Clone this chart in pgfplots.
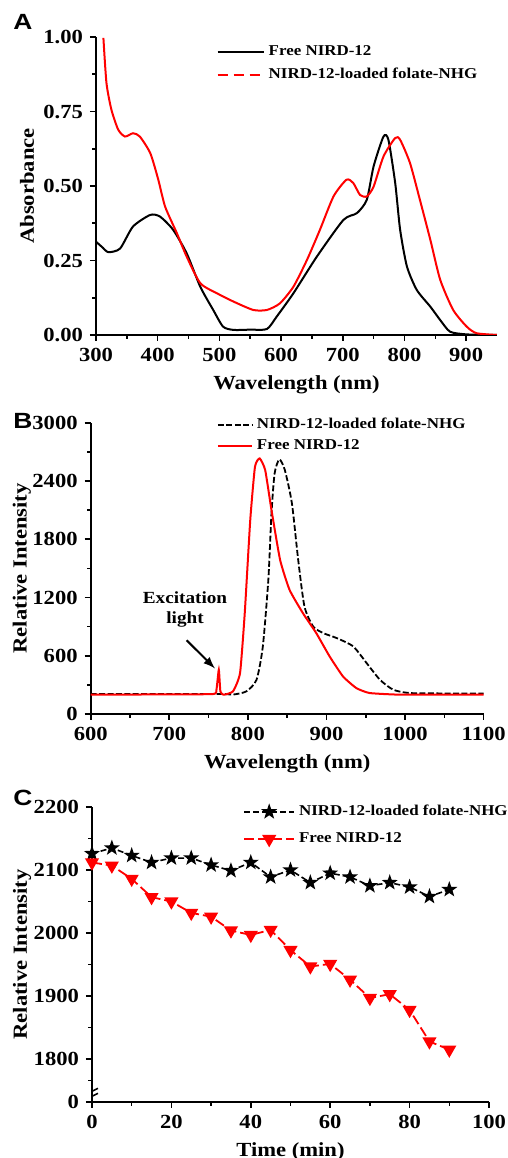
\documentclass[border=0pt]{standalone}
\usepackage{fontspec}
\setmainfont{Liberation Serif}[FakeStretch=1.13]
\newfontfamily\panelfont{Liberation Sans}[FakeStretch=1.2]
\usepackage{pgfplots}
\pgfplotsset{compat=1.18}

% filled five-point star mark
\pgfdeclareplotmark{fstar}{%
  \pgfpathmoveto{\pgfpointpolar{90}{\pgfplotmarksize}}%
  \pgfpathlineto{\pgfpointpolar{126}{0.4\pgfplotmarksize}}%
  \pgfpathlineto{\pgfpointpolar{162}{\pgfplotmarksize}}%
  \pgfpathlineto{\pgfpointpolar{198}{0.4\pgfplotmarksize}}%
  \pgfpathlineto{\pgfpointpolar{234}{\pgfplotmarksize}}%
  \pgfpathlineto{\pgfpointpolar{270}{0.4\pgfplotmarksize}}%
  \pgfpathlineto{\pgfpointpolar{306}{\pgfplotmarksize}}%
  \pgfpathlineto{\pgfpointpolar{342}{0.4\pgfplotmarksize}}%
  \pgfpathlineto{\pgfpointpolar{18}{\pgfplotmarksize}}%
  \pgfpathlineto{\pgfpointpolar{54}{0.4\pgfplotmarksize}}%
  \pgfpathclose
  \pgfusepathqfillstroke}

\pgfplotsset{
  panel/.style={
    scale only axis, anchor=south west,
    axis lines*=left, tick align=outside,
    major tick length=3pt, minor tick length=1.8pt,
    tick style={black, line width=0.8pt},
    axis line style={line width=0.9pt},
    ticklabel style={font=\bfseries\fontsize{10}{12}\selectfont},
    label style={font=\bfseries\fontsize{10}{12}\selectfont},
    /pgf/number format/assume math mode=true,
    /pgf/number format/1000 sep={},
    legend cell align=left,
    legend style={draw=none, fill=none, anchor=north west,
      font=\bfseries\fontsize{7.5}{9}\selectfont, row sep=1pt},
  },
  ylabpos/.style={ylabel style={at={(axis description cs:#1,0.5)}, anchor=center, rotate=0}},
  linelegend/.style={legend image code/.code={\draw[##1] (0pt,0pt) -- (#1,0pt);}},
}

\begin{document}
\begin{tikzpicture}[x=1pt,y=1pt]
\useasboundingbox (0,0) rectangle (254,579);

\node[font=\panelfont\bfseries\fontsize{11}{13}\selectfont] at (11.5,568) {A};
\node[font=\panelfont\bfseries\fontsize{11}{13}\selectfont] at (11.5,368.5) {B};
\node[font=\panelfont\bfseries\fontsize{11}{13}\selectfont] at (11.5,180) {C};

% ---------- A: absorbance
\begin{axis}[panel, at={(48pt,411.5pt)}, width=200.5pt, height=149pt,
  xmin=300, xmax=950, ymin=0, ymax=1,
  xtick={300,400,...,900}, minor x tick num=1,
  ytick={0,0.25,0.5,0.75,1}, minor y tick num=1,
  yticklabel style={/pgf/number format/.cd, fixed, fixed zerofill, precision=2},
  xlabel={Wavelength (nm)}, ylabel={Absorbance}, ylabpos=-0.172,
  linelegend=23pt,
  legend style={at={(0.285,1.0)}},
]
\addplot[black, line width=1pt, smooth, tension=0.4] coordinates {
(300,0.313) (310,0.295) (320,0.278) (339,0.29) (360,0.364) (388,0.403) (404,0.397)
(425,0.353) (447,0.274) (469,0.162) (490,0.084) (506,0.028) (523,0.017) (550,0.018)
(577,0.02) (593,0.062) (620,0.14) (658,0.263) (701,0.386) (723,0.409) (739,0.454)
(750,0.566) (766,0.666) (774,0.655) (785,0.51) (793,0.353) (804,0.23) (820,0.151)
(842,0.095) (858,0.05) (874,0.011) (901,0.002) (950,0)
};
\addlegendentry{Free NIRD-12}
\addplot[red, line width=1pt, smooth, tension=0.4, forget plot] coordinates {
(312,0.997) (317,0.845) (325,0.756) (336,0.689) (347,0.666) (360,0.677) (371,0.666)
(388,0.61) (401,0.521) (412,0.431) (431,0.342) (447,0.263) (469,0.174) (496,0.14)
(523,0.112) (555,0.084) (577,0.084) (598,0.106) (620,0.162) (642,0.252) (663,0.353)
(685,0.465) (706,0.521) (717,0.51) (728,0.47) (739,0.465) (750,0.498) (766,0.599)
(785,0.661) (793,0.655) (809,0.577) (825,0.454) (842,0.319) (858,0.185) (879,0.084)
(901,0.028) (917,0.006) (950,0)
};
\addlegendimage{red, line width=1pt, dash pattern=on 5pt off 3pt}
\addlegendentry{NIRD-12-loaded folate-NHG}
\end{axis}

% ---------- B: fluorescence spectra
\begin{axis}[panel, at={(45.35pt,222pt)}, width=196.5pt, height=145.6pt,
  xmin=600, xmax=1100, ymin=0, ymax=3000,
  xtick={600,700,...,1100}, minor x tick num=1,
  ytick={0,600,...,3000}, minor y tick num=1,
  xlabel={Wavelength (nm)}, ylabel={Relative Intensity}, ylabpos=-0.175,
  linelegend=17pt,
  legend style={at={(0.305,1.045)}, row sep=0pt},
]
\addplot[black, line width=0.9pt, dash pattern=on 3pt off 1.2pt, smooth, tension=0.4] coordinates {
(600,205) (700,205) (769,205) (781,200) (798,233) (811,353) (819,696) (826,1382)
(830,2067) (834,2479) (840,2623) (847,2513) (856,2170) (864,1587) (872,1107) (883,902)
(896,833) (913,782) (934,696) (951,525) (968,353) (985,250) (1006,216) (1050,212) (1100,212)
};
\addlegendentry{NIRD-12-loaded folate-NHG}
\addplot[red, line width=1pt, smooth, tension=0.3] coordinates {
(600,199) (700,202) (756,206) (760,250) (763,456) (765,233) (769,199) (781,233)
(790,422) (796,1039) (803,1999) (809,2547) (815,2633) (822,2513) (830,2102) (841,1587)
(853,1279) (870,1039) (887,833) (904,593) (921,387) (938,267) (955,216) (993,199)
(1050,199) (1100,199)
};
\addlegendentry{Free NIRD-12}
\node[font=\bfseries\fontsize{8.5}{10}\selectfont, align=center] at (axis cs:720,1080) {Excitation\\light};
\draw[-latex, line width=1pt] (axis cs:722,760) -- (axis cs:758,470);
\end{axis}

% ---------- C: photostability
\begin{axis}[panel, at={(46pt,28pt)}, width=198.5pt, height=147.5pt,
  xmin=0, xmax=100, ymin=1732, ymax=2200,
  xtick={0,20,...,100}, minor x tick num=1,
  ytick={1732,1800,1900,2000,2100,2200},
  yticklabels={0,1800,1900,2000,2100,2200},
  minor ytick={1766,1850,1950,2050,2150},
  xlabel={Time (min)}, ylabel={Relative Intensity}, ylabpos=-0.176,
  legend image code/.code={\draw[mark repeat=2,mark phase=2,#1] plot coordinates {(0pt,0pt) (12.5pt,0pt) (25pt,0pt)};},
  legend style={at={(0.365,1.035)}, row sep=3pt},
]
\addplot[black, line width=0.8pt, dash pattern=on 3pt off 1.5pt, mark=fstar,
  mark size=3pt, mark options={solid, fill=black}] coordinates {
(0,2126) (5,2135) (10,2123) (15,2112) (20,2119) (25,2119) (30,2108) (35,2099) (40,2112)
(45,2089) (50,2100) (55,2080) (60,2095) (65,2089) (70,2075) (75,2080) (80,2073) (85,2058) (90,2069)
};
\addlegendentry{NIRD-12-loaded folate-NHG}
\addplot[red, line width=0.9pt, dash pattern=on 5pt off 2pt, mark=triangle*,
  mark size=3.2pt, mark options={solid, fill=red, rotate=180}] coordinates {
(0,2112) (5,2107) (10,2086) (15,2057) (20,2050) (25,2032) (30,2026) (35,2004) (40,1997)
(45,2005) (50,1973) (55,1947) (60,1951) (65,1926) (70,1897) (75,1903) (80,1878) (85,1828) (90,1815)
};
\addlegendentry{Free NIRD-12}
% axis break marks
\draw[line width=0.8pt] (axis cs:0,1741) ++(-3pt,-1.5pt) -- ++(6pt,3pt);
\draw[line width=0.8pt] (axis cs:0,1749) ++(-3pt,-1.5pt) -- ++(6pt,3pt);
\end{axis}
\end{tikzpicture}
\end{document}
